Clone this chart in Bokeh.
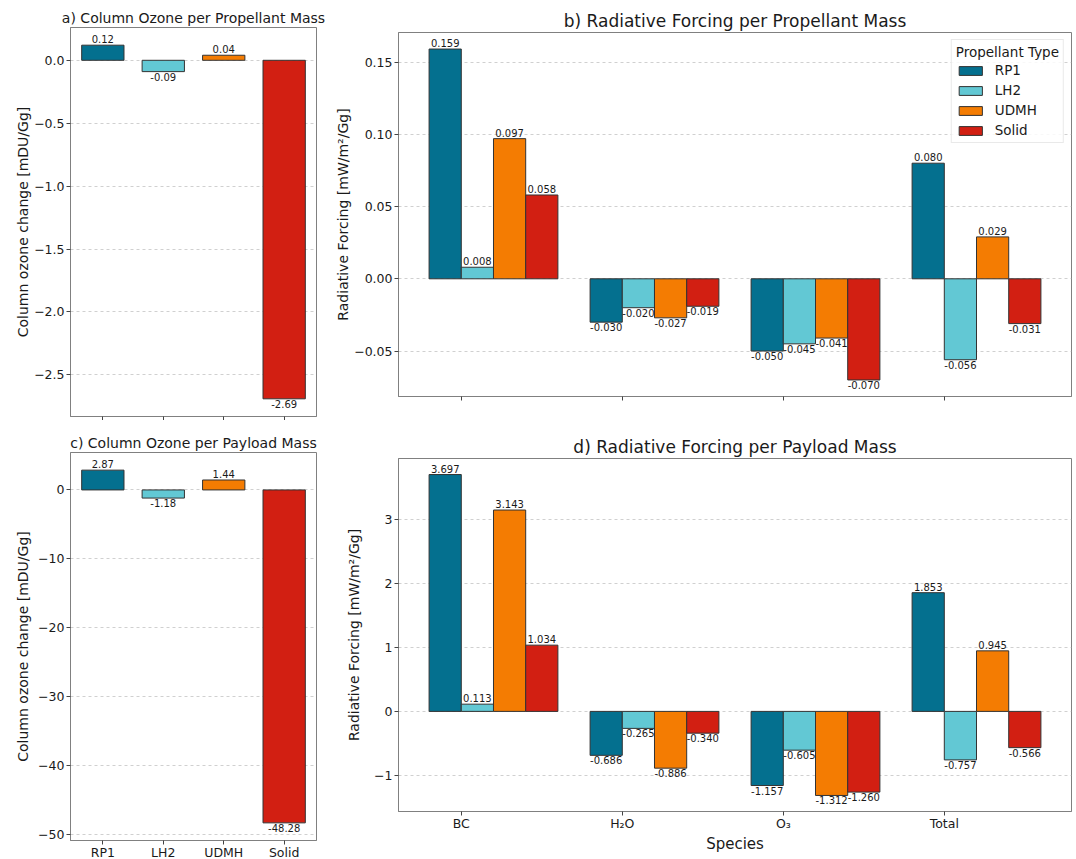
from bokeh.plotting import figure
from bokeh.layouts import column, row
from bokeh.models import ColumnDataSource, FixedTicker, Range1d, Legend, LegendItem
from bokeh.core.properties import value
from bokeh.embed import file_html
from bokeh.resources import INLINE

FONT = "DejaVu Sans"
FONT_VALUE = value(FONT)

# Propellant types and their colours
fuels = ["RP1", "LH2", "UDMH", "Solid"]
fuel_colors = ["#04708f", "#62c8d4", "#f47c02", "#d21f12"]

# Species groups for the radiative forcing panels
species = ["BC", "H\u2082O", "O\u2083", "Total"]

# Column ozone change [mDU/Gg]
ozone_per_propellant = [0.12, -0.09, 0.04, -2.69]
ozone_per_payload = [2.87, -1.18, 1.44, -48.28]

# Radiative forcing per propellant mass [mW/m2/Gg], by species (BC, H2O, O3, Total)
rf_prop_rp1 = [0.159, -0.030, -0.050, 0.080]
rf_prop_lh2 = [0.008, -0.020, -0.045, -0.056]
rf_prop_udmh = [0.097, -0.027, -0.041, 0.029]
rf_prop_solid = [0.058, -0.019, -0.070, -0.031]

# Radiative forcing per payload mass [mW/m2/Gg]
rf_pay_rp1 = [3.697, -0.686, -1.157, 1.853]
rf_pay_lh2 = [0.113, -0.265, -0.605, -0.757]
rf_pay_udmh = [3.143, -0.886, -1.312, 0.945]
rf_pay_solid = [1.034, -0.340, -1.260, -0.566]

# Y tick values and their labels
a_ticks = [0.0, -0.5, -1.0, -1.5, -2.0, -2.5]
a_tick_labels = ["0.0", "\u22120.5", "\u22121.0", "\u22121.5", "\u22122.0", "\u22122.5"]
c_ticks = [0, -10, -20, -30, -40, -50]
c_tick_labels = ["0", "\u221210", "\u221220", "\u221230", "\u221240", "\u221250"]
b_ticks = [-0.05, 0.0, 0.05, 0.10, 0.15]
b_tick_labels = ["\u22120.05", "0.00", "0.05", "0.10", "0.15"]
d_ticks = [-1, 0, 1, 2, 3]
d_tick_labels = ["\u22121", "0", "1", "2", "3"]

BAR_EDGE = "#333333"
FRAME = "#808080"


def auto_range(values):
    lo = min(min(values), 0.0)
    hi = max(max(values), 0.0)
    pad = 0.05 * (hi - lo)
    return Range1d(lo - pad, hi + pad)


def base_figure(x_range, y_range, fw, fh, left, right, top, bottom, title, title_size, t_standoff):
    p = figure(
        x_range=x_range, y_range=y_range,
        frame_width=fw, frame_height=fh,
        min_border_left=left, min_border_right=right,
        min_border_top=top, min_border_bottom=bottom,
        toolbar_location=None, output_backend="svg",
        title=title,
    )
    p.title.text_font = FONT
    p.title.text_font_size = title_size
    p.title.text_font_style = "normal"
    p.title.text_color = "#1a1a1a"
    p.title.align = "center"
    p.title.standoff = t_standoff
    p.outline_line_color = FRAME
    p.outline_line_width = 1
    p.background_fill_color = "white"
    p.border_fill_color = "white"
    p.xgrid.visible = False
    p.ygrid.grid_line_color = "#c4c4c4"
    p.ygrid.grid_line_dash = "3 3"
    p.ygrid.grid_line_width = 0.8
    for ax in (p.xaxis[0], p.yaxis[0]):
        ax.axis_line_color = FRAME
        ax.major_tick_line_color = "#444444"
        ax.major_tick_in = 0
        ax.major_tick_out = 4
        ax.minor_tick_line_color = None
        ax.major_label_text_font = FONT
        ax.major_label_text_font_size = "12.5px"
        ax.major_label_text_color = "#1a1a1a"
        ax.major_label_standoff = 2
        ax.axis_label_text_font = FONT
        ax.axis_label_text_font_style = "normal"
        ax.axis_label_text_color = "#1a1a1a"
    return p


def set_y_ticks(p, ticks, labels, axis_label, standoff):
    p.yaxis.ticker = FixedTicker(ticks=ticks)
    p.yaxis.major_label_overrides = {t: s for t, s in zip(ticks, labels)}
    p.yaxis.axis_label = axis_label
    p.yaxis.axis_label_text_font_size = "14px"
    p.yaxis.axis_label_standoff = standoff


def set_x_ticks(p, ticks, labels):
    p.xaxis.ticker = FixedTicker(ticks=ticks)
    if labels is None:
        p.xaxis.major_label_overrides = {t: "" for t in ticks}
        p.xaxis.major_label_text_font_size = "0px"
        p.xaxis.major_label_standoff = 0
    else:
        p.xaxis.major_label_overrides = {t: s for t, s in zip(ticks, labels)}
        p.xaxis.major_label_standoff = 0


def value_labels(p, xs, vals, fmt):
    pos = [(x, v) for x, v in zip(xs, vals) if v >= 0]
    neg = [(x, v) for x, v in zip(xs, vals) if v < 0]
    for pts, baseline, off in ((pos, "bottom", -2), (neg, "top", 1)):
        if not pts:
            continue
        src = ColumnDataSource(dict(
            x=[q[0] for q in pts], y=[q[1] for q in pts],
            t=[fmt.format(q[1]) for q in pts],
        ))
        p.text(x="x", y="y", text="t", source=src, text_align="center",
               text_baseline=baseline, y_offset=off, text_font_size="10px",
               text_color="#1a1a1a", text_font=FONT_VALUE)


def ozone_panel(vals, title, ticks, tick_labels, x_labels, fw, fh, left, right, top, bottom, std):
    xs = list(range(len(fuels)))
    width = 0.7
    span = len(xs) - 1 + width
    xr = Range1d(-width / 2 - 0.05 * span, len(xs) - 1 + width / 2 + 0.05 * span)
    p = base_figure(xr, auto_range(vals), fw, fh, left, right, top, bottom, title, "14px", 4)
    src = ColumnDataSource(dict(x=xs, top=vals, color=fuel_colors))
    p.vbar(x="x", top="top", bottom=0, width=width, source=src, fill_color="color",
           line_color=BAR_EDGE, line_width=1)
    value_labels(p, xs, vals, "{:.2f}")
    set_y_ticks(p, ticks, tick_labels, "Column ozone change [mDU/Gg]", std)
    set_x_ticks(p, xs, x_labels)
    return p


def rf_panel(series, title, ticks, tick_labels, x_labels, fw, fh, left, right, top, bottom,
             std, legend=False, xlabel=None):
    groups = list(range(len(species)))
    width = 0.2
    offsets = [i * width - width / 2 for i in range(len(fuels))]
    all_vals = [v for s in series for v in s]
    lo_x = groups[0] + offsets[0] - width / 2
    hi_x = groups[-1] + offsets[-1] + width / 2
    pad = 0.05 * (hi_x - lo_x)
    p = base_figure(Range1d(lo_x - pad, hi_x + pad), auto_range(all_vals), fw, fh,
                    left, right, top, bottom, title, "17px", 3)
    items = []
    for name, color, vals, off in zip(fuels, fuel_colors, series, offsets):
        xs = [g + off for g in groups]
        r = p.vbar(x=xs, top=vals, bottom=0, width=width, fill_color=color,
                   line_color=BAR_EDGE, line_width=1)
        items.append(LegendItem(label=name, renderers=[r]))
    for name, vals, off in zip(fuels, series, offsets):
        xs = [g + off for g in groups]
        value_labels(p, xs, vals, "{:.3f}")
    set_y_ticks(p, ticks, tick_labels, "Radiative Forcing [mW/m\u00b2/Gg]", std)
    set_x_ticks(p, groups, x_labels)
    if xlabel:
        p.xaxis.axis_label = xlabel
        p.xaxis.axis_label_text_font_size = "15px"
        p.xaxis.axis_label_standoff = 1
    if legend:
        lg = Legend(items=items, location="top_right", title="Propellant Type")
        lg.title_text_font = FONT
        lg.title_text_font_size = "13.5px"
        lg.title_text_font_style = "normal"
        lg.title_text_color = "#1a1a1a"
        lg.title_standoff = 2
        lg.label_text_font = FONT
        lg.label_text_font_size = "13.5px"
        lg.label_text_color = "#1a1a1a"
        lg.glyph_width = 29
        lg.glyph_height = 11
        lg.label_standoff = 10
        lg.spacing = 4
        lg.padding = 4
        lg.margin = 7
        lg.border_line_color = "#d4d4d4"
        lg.background_fill_alpha = 0.85
        p.add_layout(lg)
    return p


pa = ozone_panel(ozone_per_propellant, "a) Column Ozone per Propellant Mass",
                 a_ticks, a_tick_labels, None, 246, 389, 70, 14, 27, 4, 0)
pc = ozone_panel(ozone_per_payload, "c) Column Ozone per Payload Mass",
                 c_ticks, c_tick_labels, fuels, 246, 388, 70, 14, 32, 18, 4)
pb = rf_panel([rf_prop_rp1, rf_prop_lh2, rf_prop_udmh, rf_prop_solid],
              "b) Radiative Forcing per Propellant Mass",
              b_ticks, b_tick_labels, None, 673, 364, 68, 5, 32, 24, 0, legend=True)
pd_ = rf_panel([rf_pay_rp1, rf_pay_lh2, rf_pay_udmh, rf_pay_solid],
               "d) Radiative Forcing per Payload Mass",
               d_ticks, d_tick_labels, species, 673, 353, 68, 5, 38, 48, 9, xlabel="Species")

layout = row(column(pa, pc), column(pb, pd_))
open("out.html", "w").write(file_html(layout, INLINE))
